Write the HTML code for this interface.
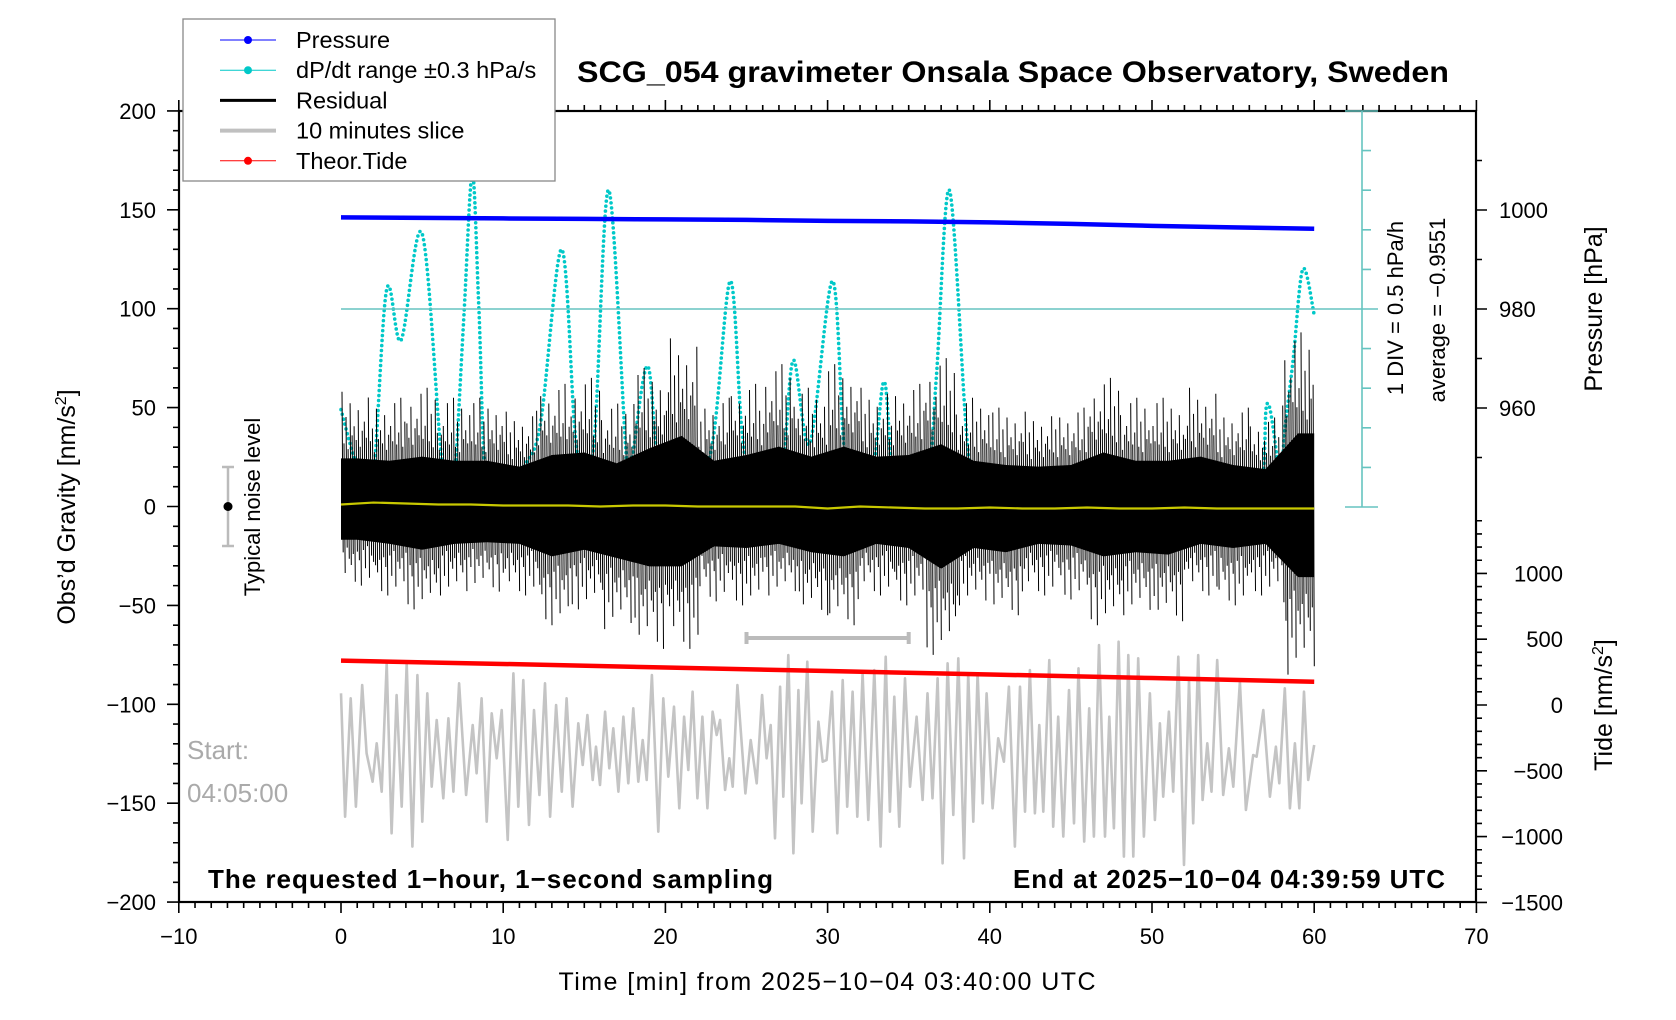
<!DOCTYPE html>
<html><head><meta charset="utf-8">
<style>
html,body{margin:0;padding:0;background:#fff;}
svg{display:block;font-family:"Liberation Sans",sans-serif;}
</style></head>
<body>
<svg id="chart" width="1676" height="1020" viewBox="0 0 1676 1020" xmlns="http://www.w3.org/2000/svg">
<g id="series"></g>
<g id="axes"></g>
</svg>
<script>
// ---------- data ----------
const pressT = [0,5,10,15,20,25,30,35,40,45,50,55,60];
const pressV = [998.5,998.4,998.3,998.2,998.1,998.0,997.8,997.7,997.5,997.2,996.8,996.5,996.2];
const tealT = [0,0.8,1.85,2.8,3.7,5.0,6.2,6.8,7.0,7.6,8.1,8.5,9.0,10.2,11.3,12.3,13.6,14.4,14.8,15.6,16.5,17.6,17.9,18.9,19.7,21.5,22.9,24.0,24.7,25.3,26.5,27.3,27.9,28.9,30.3,31.0,31.6,32.8,33.5,34.2,36.0,36.7,37.5,38.5,38.9,39.5,41,42,43,50.5,51.7,52.5,56.4,57.1,57.9,58.2,58.7,59.3,60];
const tealV = [49,25,2,109,84,138,24,0,10,100,168,100,3,0,20,42,130,40,22,32,160,24,22,71,15,0,32,114,40,10,2,26,74,32,114,32,10,20,63,7,0,65,160,44,14,15,0,10,0,0,23,0,0,52,17,40,74,120,97];
const resT = [1,3,5,7,9,11,13,15,17,19,21,23,25,27,29,31,33,35,37,39,41,43,45,47,49,51,53,55,57,59];
const resMax = [58,55,60,55,55,48,62,65,52,70,85,55,62,72,60,72,60,62,75,55,50,48,50,65,55,55,60,50,45,88];
const resMin = [-40,-45,-52,-45,-43,-45,-60,-52,-62,-72,-72,-48,-50,-45,-55,-60,-45,-50,-75,-50,-55,-45,-47,-60,-55,-58,-45,-50,-45,-85];
const yelT = [0,2,4,6,8,10,12,14,16,18,20,22,24,26,28,30,32,34,36,38,40,42,44,46,48,50,52,54,56,58,60];
const yelV = [1,2,1.5,1,1,0.5,0.5,0.5,0,0.5,0.5,0,0,0,0,-1,0,-0.5,-1,-1,-0.5,-1,-1,-0.5,-1,-1,-0.5,-1,-1,-1,-1];
const tideT = [0,10,20,30,40,50,60];
const tideV = [337,312,285,258,232,205,177];
const sliceT = [0,0.25,0.6,0.92,1.31,1.58,1.95,2.2,2.51,2.82,3.12,3.43,3.74,4.05,4.4,4.71,5.01,5.32,5.59,5.9,6.31,6.62,6.93,7.28,7.71,8.12,8.36,8.67,8.98,9.29,9.6,9.91,10.28,10.63,10.93,11.24,11.59,11.9,12.23,12.58,12.89,13.26,13.61,13.91,14.28,14.63,14.9,15.19,15.52,15.72,15.97,16.28,16.54,16.79,17.1,17.41,17.71,18.02,18.33,18.6,18.85,19.17,19.56,19.87,20.18,20.53,20.86,21.15,21.41,21.68,21.97,22.28,22.59,22.91,23.16,23.37,23.68,23.94,24.15,24.44,24.93,25.26,25.63,25.96,26.24,26.49,26.76,27.07,27.27,27.58,27.89,28.2,28.4,28.75,29.08,29.43,29.7,29.94,30.27,30.6,30.93,31.21,31.54,31.83,32.16,32.51,32.88,33.27,33.58,33.84,34.11,34.42,34.77,35.08,35.49,35.86,36.16,36.47,36.78,37.09,37.4,37.75,38.06,38.41,38.67,38.98,39.25,39.56,39.8,40.17,40.52,40.87,41.18,41.55,41.86,42.17,42.47,42.78,43.05,43.3,43.67,43.91,44.22,44.53,44.88,45.19,45.47,45.82,46.13,46.42,46.73,47.1,47.37,47.65,47.94,48.27,48.54,48.85,49.15,49.5,49.87,50.18,50.49,50.69,51.04,51.31,51.62,51.97,52.28,52.54,52.85,53.12,53.41,53.67,54.02,54.39,54.74,55.01,55.42,55.79,56.24,56.45,56.86,57.27,57.64,57.85,58.19,58.5,58.81,59.08,59.37,59.63,60];
const sliceV = [89,-849,51,-773,152,-367,-583,-291,-659,317,-975,76,-773,317,-1076,228,-887,89,-621,-114,-709,-101,-659,165,-684,-152,-519,51,-887,-63,-405,-38,-1026,241,-773,190,-912,-38,-684,165,-849,0,-659,51,-773,-139,-456,-76,-570,-317,-608,-51,-481,-177,-659,-89,-595,-25,-583,-266,-570,228,-963,51,-545,-13,-785,-89,-494,101,-709,-89,-785,-51,-228,-114,-646,-405,-621,152,-672,-266,-595,76,-405,-152,-1013,139,-697,380,-1127,114,-747,329,-963,-127,-431,-418,101,-975,190,-773,101,-849,241,-874,266,-1076,367,-811,63,-925,203,-621,-89,-722,89,-709,203,-1203,317,-836,355,-1165,241,-887,241,-747,89,-785,-253,-431,139,-1076,139,-811,266,-823,-152,-811,342,-925,-89,-1000,114,-899,279,-1038,-25,-1000,456,-1000,-89,-937,481,-1152,380,-1152,355,-1000,89,-874,-139,-697,-51,-659,367,-1216,190,-899,380,-722,-291,-659,342,-684,-329,-621,177,-798,-380,-393,-38,-697,-317,-595,127,-785,-291,-785,101,-570,-304];
const xTicks = [-10,0,10,20,30,40,50,60,70];
const gTicks = [-200,-150,-100,-50,0,50,100,150,200];
const pTicks = [960,980,1000];
const tTicks = [-1500,-1000,-500,0,500,1000];

// ---------- scales ----------
const xS = t => 341 + t*16.22;
const yG = g => 506.5 - g*1.978;
const yP = p => 309 - (p-980)*4.95;
const yT = v => 705 - v*0.1316;
const NS = 'http://www.w3.org/2000/svg';
function mk(tag, attrs, parent){const e=document.createElementNS(NS,tag);for(const k in attrs)e.setAttribute(k,attrs[k]);parent.appendChild(e);return e;}
const S = document.getElementById('series');
const A = document.getElementById('axes');

// 10-minute slice (grey)
let d = sliceT.map((t,i)=>(i?'L':'M')+xS(t).toFixed(1)+','+yT(sliceV[i]).toFixed(1)).join('');
let el = mk('path',{d:d,fill:'none',stroke:'#c4c4c4','stroke-width':2.6,'stroke-linejoin':'round'},S);



// theoretical tide (red)
d = tideT.map((t,i)=>(i?'L':'M')+xS(t)+','+yT(tideV[i])).join('');
el = mk('path',{d:d,fill:'none',stroke:'#ff0000','stroke-width':4.5},S);



// dP/dt teal dotted curve (Catmull-Rom)
function crPath(xs,ys){
  let p='M'+xs[0]+','+ys[0];
  for(let i=0;i<xs.length-1;i++){
    const x0=xs[Math.max(0,i-1)],y0=ys[Math.max(0,i-1)],x1=xs[i],y1=ys[i],x2=xs[i+1],y2=ys[i+1],x3=xs[Math.min(xs.length-1,i+2)],y3=ys[Math.min(xs.length-1,i+2)];
    p+='C'+(x1+(x2-x0)/6).toFixed(1)+','+(y1+(y2-y0)/6).toFixed(1)+' '+(x2-(x3-x1)/6).toFixed(1)+','+(y2-(y3-y1)/6).toFixed(1)+' '+x2.toFixed(1)+','+y2.toFixed(1);
  }
  return p;
}
el = mk('path',{d:crPath(tealT.map(xS),tealV.map(yG)),fill:'none',stroke:'#00c8c8','stroke-width':3.6,'stroke-dasharray':'0 5','stroke-linecap':'round'},S);



// residual (black)
const resG = mk('g',{},S);


let topPts=[],botPts=[];
const CORE=0.42;
resT.forEach((t,i)=>{topPts.push(xS(t)+','+yG(resMax[i]*CORE));botPts.unshift(xS(t)+','+yG(resMin[i]*CORE));});
topPts.unshift(xS(0)+','+yG(resMax[0]*CORE));topPts.push(xS(60)+','+yG(resMax[resMax.length-1]*CORE));
botPts.unshift(xS(60)+','+yG(resMin[resMin.length-1]*CORE));botPts.push(xS(0)+','+yG(resMin[0]*CORE));
mk('polygon',{points:topPts.concat(botPts).join(' '),fill:'#000'},resG);
const pat=[1,0.55,0.78,0.5,0.9,0.62,0.7,0.58,0.84,0.52,0.66,0.74,0.6,0.95,0.57,0.68];
let sp='';
for(let i=0;i<resT.length;i++){
  for(let j=0;j<16;j++){
    const t=resT[i]-1+j*0.125+0.06;
    const f=pat[(j+3*i)%16];
    const g2=pat[(j+3*i+7)%16];
    sp+='M'+xS(t).toFixed(1)+','+yG(resMax[i]*f).toFixed(1)+'L'+(xS(t)+1.2).toFixed(1)+','+yG(resMin[i]*g2).toFixed(1);
  }
}
mk('path',{d:sp,stroke:'#000','stroke-width':1,fill:'none'},resG);

// yellow smoothed
d = yelT.map((t,i)=>(i?'L':'M')+xS(t)+','+yG(yelV[i])).join('');
el = mk('path',{d:d,fill:'none',stroke:'#c8c800','stroke-width':2.2},S);



// pressure
d = pressT.map((t,i)=>(i?'L':'M')+xS(t)+','+yP(pressV[i])).join('');
el = mk('path',{d:d,fill:'none',stroke:'#0000ff','stroke-width':4.5},S);



// ---------- axes ----------
function txt(x,y,s,attrs,name){const e=mk('text',Object.assign({x:x,y:y},attrs),A);e.textContent=s;return e;}
let ax='';
mk('rect',{x:179,y:111,width:1297,height:791,fill:'none',stroke:'#000','stroke-width':2.2},A);
for(let t=-10;t<=70;t++){const x=xS(t);const L=(t%10===0)?11:6;ax+='M'+x+',902v'+L+'M'+x+',111v'+(-L);}
for(let g=-200;g<=200;g+=10){const y=yG(g);const L=(g%50===0)?12:6;ax+='M179,'+y+'h'+(-L);}
for(let p=950;p<=1010;p+=10){const y=yP(p);const L=(p%20===0)?11:6;ax+='M1476,'+y+'h'+L;}
for(let v=-1500;v<=1400;v+=100){const y=yT(v);const L=(v%500===0)?11:6;ax+='M1476,'+y+'h'+L;}
mk('path',{d:ax,stroke:'#000','stroke-width':1.6,fill:'none'},A);
xTicks.forEach(t=>txt(xS(t),944,String(t).replace('-','\u2212'),{'font-size':22,'text-anchor':'middle'},'x-tick-label'));
gTicks.forEach(g=>txt(156,yG(g)+8,String(g).replace('-','\u2212'),{'font-size':22,'text-anchor':'end'},'y-tick-label'));
pTicks.forEach(p=>txt(1499,yP(p)+8,String(p),{'font-size':22},'pressure-tick-label'));
tTicks.forEach(v=>txt(1563,yT(v)+8,String(v).replace('-','\u2212'),{'font-size':22,'text-anchor':'end'},'tide-tick-label'));

// teal scale
let tq='M1362,111V507M1345,111H1378M1345,507H1378M341,309H1378';
for(let i=1;i<10;i++){tq+='M1362,'+(111+i*39.6)+'h9';}
el=mk('path',{d:tq,stroke:'#66c4c0','stroke-width':1.6,fill:'none'},A);


txt(0,0,'1 DIV = 0.5 hPa/h',{'font-size':22,'text-anchor':'middle',transform:'translate(1403,308) rotate(-90)'},'dpdt-scale-label');
txt(0,0,'average = \u22120.9551',{'font-size':22,'text-anchor':'middle',transform:'translate(1445,310) rotate(-90)'},'dpdt-average-label');

// titles
txt(1013,82,'SCG_054 gravimeter Onsala Space Observatory, Sweden',{'font-size':30,'font-weight':'bold','text-anchor':'middle',textLength:872,lengthAdjust:'spacingAndGlyphs'},'chart-title');
txt(827,990,'Time [min] from 2025\u221210\u221204 03:40:00 UTC',{'font-size':25,'text-anchor':'middle',textLength:537},'x-axis-title');
const yl=txt(0,0,'',{'font-size':25,'text-anchor':'middle',transform:'translate(75,507) rotate(-90)'},'y-axis-title');
yl.innerHTML='Obs\u2019d Gravity [nm/s<tspan dy="-9" font-size="16">2</tspan><tspan dy="9">]</tspan>';
txt(0,0,'Pressure [hPa]',{'font-size':25,'text-anchor':'middle',transform:'translate(1602,309) rotate(-90)'},'pressure-axis-title');
const tl=txt(0,0,'',{'font-size':25,'text-anchor':'middle',transform:'translate(1612,705) rotate(-90)'},'tide-axis-title');
tl.innerHTML='Tide [nm/s<tspan dy="-9" font-size="16">2</tspan><tspan dy="9">]</tspan>';
txt(208,888,'The requested 1\u2212hour, 1\u2212second sampling',{'font-size':26,'font-weight':'bold',textLength:565},'sampling-note');
txt(1445,888,'End at 2025\u221210\u221204 04:39:59 UTC',{'font-size':26,'font-weight':'bold','text-anchor':'end',textLength:432},'end-time-note');
txt(187,759,'Start:',{'font-size':26,fill:'#aaaaaa'},'start-label');
txt(187,802,'04:05:00',{'font-size':26,fill:'#aaaaaa'},'start-time-label');

// noise level bar
el=mk('path',{d:'M228,'+yG(20)+'V'+yG(-20)+'M222,'+yG(20)+'h12M222,'+yG(-20)+'h12',stroke:'#bbbbbb','stroke-width':2.5,fill:'none'},A);


mk('circle',{cx:228,cy:yG(0),r:4.5,fill:'#000'},A);
txt(0,0,'Typical noise level',{'font-size':22,'text-anchor':'middle',transform:'translate(260,507) rotate(-90)'},'noise-level-label');

// slice bar
el=mk('path',{d:'M'+xS(25)+','+yG(-66.5)+'H'+xS(35)+'M'+xS(25)+','+(yG(-66.5)-6)+'v12M'+xS(35)+','+(yG(-66.5)-6)+'v12',stroke:'#bbbbbb','stroke-width':4,fill:'none'},A);



// legend
const lg=mk('g',{},A);


mk('rect',{x:183,y:19,width:372,height:162,fill:'#fff',stroke:'#888','stroke-width':1.3},lg);
const items=[['Pressure','#0000ff',1,true],['dP/dt range \u00b10.3 hPa/s','#00c8c8',1,true],['Residual','#000',3,false],['10 minutes slice','#c0c0c0',4,false],['Theor.Tide','#ff0000',1,true]];
items.forEach((it,i)=>{
  const y=40+i*30.2;
  mk('line',{x1:220,x2:276,y1:y,y2:y,stroke:it[1],'stroke-width':it[2]},lg);
  if(it[3])mk('circle',{cx:248,cy:y,r:4,fill:it[1]},lg);
  const t=mk('text',{x:296,y:y+8,'font-size':23.5},lg);t.textContent=it[0];
  
  
});
</script>
</body></html>
